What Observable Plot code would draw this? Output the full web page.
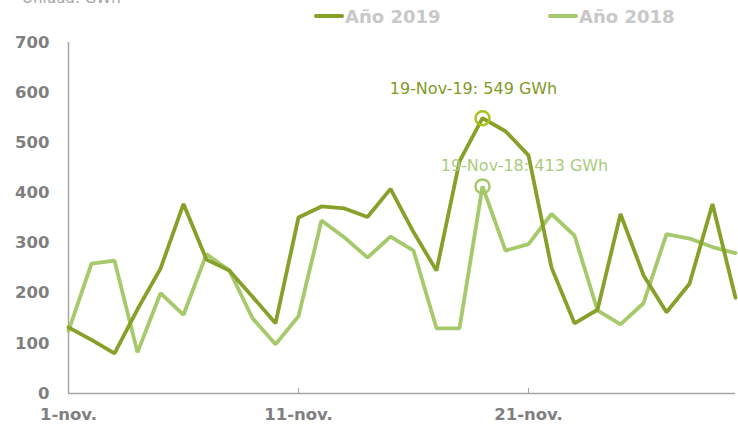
<!DOCTYPE html>
<html>
<head>
<meta charset="utf-8">
<script src="https://cdn.jsdelivr.net/npm/d3@7"></script>
<script src="https://cdn.jsdelivr.net/npm/@observablehq/plot@0.6"></script>
<style>
  body { margin: 0; background: #fff; font-family: "DejaVu Sans", Verdana, sans-serif; }
  #wrap { position: relative; width: 738px; height: 426px; overflow: hidden; }
  #wrap svg { position: absolute; left: 0; top: 0; }
  .unit { position: absolute; left: 22px; top: -11px; font-size: 15px; color: #a6a6a6; }
  .leg { position: absolute; top: 6px; font-size: 18px; font-weight: bold; color: #c8c8c8; white-space: nowrap; }
  .sw { display: inline-block; width: 30px; height: 4px; border-radius: 2px; vertical-align: middle; margin-right: 1px; position: relative; top: -2px; }
</style>
</head>
<body>
<div id="wrap">
  <div class="unit">Unidad: GWh</div>
  <div class="leg" style="left:314px"><span class="sw" style="background:#87a02a"></span>Año 2019</div>
  <div class="leg" style="left:548px"><span class="sw" style="background:#a5c96b"></span>Año 2018</div>
</div>
<script>
const days = [1,2,3,4,5,6,7,8,9,10,11,12,13,14,15,16,17,18,19,20,21,22,23,24,25,26,27,28,29,30];
const v2019 = [132,107,80,168,249,378,267,245,193,140,351,373,369,352,408,322,245,463,549,523,475,251,140,167,358,236,162,219,378,191];
const v2018 = [125,259,265,82,200,157,278,245,150,98,154,345,311,271,313,285,130,130,413,285,298,358,315,166,138,180,318,309,292,280];
const xTicks = [1, 11, 21];
const xTickLabels = ["1-nov.", "11-nov.", "21-nov."];
const yTicks = [0,100,200,300,400,500,600,700];
const peak19 = [{day: 19, value: 549, label: "19-Nov-19: 549 GWh"}];
const peak18 = [{day: 19, value: 413, label: "19-Nov-18: 413 GWh"}];

const d19 = days.map((d, i) => ({day: d, value: v2019[i]}));
const d18 = days.map((d, i) => ({day: d, value: v2018[i]}));

const chart = Plot.plot({
  width: 738,
  height: 426,
  marginLeft: 68,
  marginRight: 3,
  marginTop: 42,
  marginBottom: 33,
  style: {fontFamily: "'DejaVu Sans', Verdana, sans-serif", background: "transparent"},
  x: {domain: [1, 30]},
  y: {domain: [0, 700]},
  marks: [
    Plot.ruleX(xTicks.slice(1), {y1: 0, y2: 10, stroke: "#a6a6a6", strokeWidth: 1}),
    Plot.ruleY([0], {stroke: "#a6a6a6", strokeWidth: 1.5}),
    Plot.ruleX([1], {stroke: "#a6a6a6", strokeWidth: 1.5}),
    Plot.axisY({ticks: yTicks, tickSize: 0, tickPadding: 19, fontSize: 16.5, fontWeight: "bold", fill: "#7f7f7f", label: null}),
    Plot.axisX({ticks: xTicks, tickFormat: (d) => xTickLabels[xTicks.indexOf(d)], tickSize: 0, tickPadding: 15, fontSize: 16.5, fontWeight: "bold", fill: "#7f7f7f", label: null}),
    Plot.line(d18, {x: "day", y: "value", stroke: "#a5c96b", strokeWidth: 3.8, strokeLinejoin: "miter"}),
    Plot.line(d19, {x: "day", y: "value", stroke: "#87a02a", strokeWidth: 3.8, strokeLinejoin: "miter"}),
    Plot.dot(peak19, {x: "day", y: "value", r: 7, stroke: "#a6c41c", strokeWidth: 2.5, fill: "none"}),
    Plot.dot(peak18, {x: "day", y: "value", r: 7, stroke: "#a6c96b", strokeWidth: 2.5, fill: "none"}),
    Plot.text(peak19, {x: "day", y: "value", text: "label", fill: "#7f9a1f", dx: -9, dy: -29, fontSize: 16}),
    Plot.text(peak18, {x: "day", y: "value", text: "label", fill: "#a9cc7c", dx: 42, dy: -21, fontSize: 16})
  ]
});
document.getElementById("wrap").prepend(chart);
</script>
</body>
</html>
